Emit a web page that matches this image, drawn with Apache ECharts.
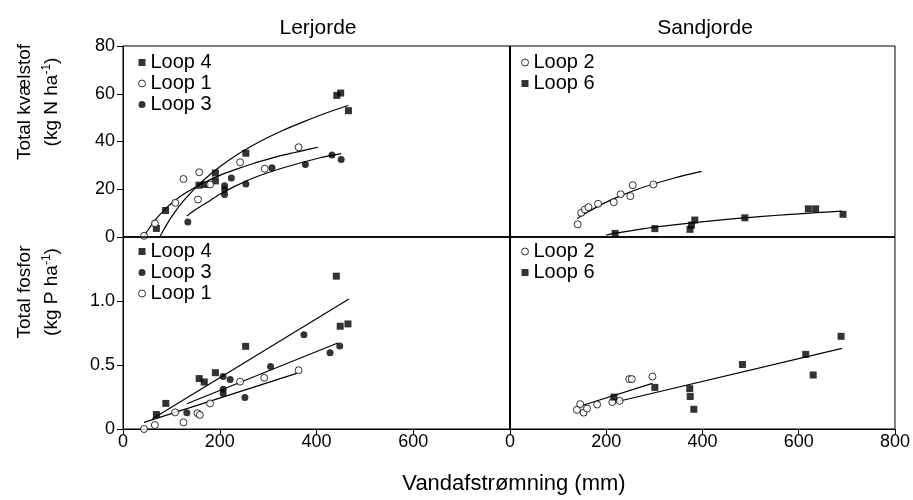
<!DOCTYPE html>
<html>
<head>
<meta charset="utf-8">
<script src="https://cdn.jsdelivr.net/npm/echarts@6/dist/echarts.min.js"></script>
<style>
  html, body { margin: 0; padding: 0; background: #fff; }
  #chart { width: 913px; height: 500px; }
</style>
</head>
<body>
<div id="chart"></div>
<script>
// Axis ticks
const xTicks = [0, 200, 400, 600, 800];
const nTicks = [0, 20, 40, 60, 80];
const pTicks = [0, 0.5, 1.0, 1.5];

// Lerjorde, total nitrogen [runoff mm, kg N/ha]
const lerN_loop4 = [[69,3.6],[88,11.1],[157,21.7],[170,22],[191,26.8],[191,23.5],[254,35.1],[442,59.3],[450,60.3],[466,52.9]];
const lerN_loop1 = [[43.5,0.5],[66,5.7],[108,14.3],[125,24.3],[157.5,27.1],[155,15.7],[180,22],[242,31.3],[293,28.6],[363,37.6]];
const lerN_loop3 = [[134,6.25],[210,21.5],[210,19.9],[210,17.8],[224,24.7],[254,22.2],[308,29],[377,30.4],[432,34.3],[451,32.5]];
// Fitted curves
const lerN_fit4 = [[76,0],[82,2.3],[90,5.1],[100,8.3],[115,12.6],[130,16.3],[155,21.6],[185,27],[215,31.6],[250,36.2],[290,40.7],[330,44.6],[370,48],[406,50.9],[436,53.1],[466,55.1]];
const lerN_fit1 = [[43,0],[50,2.4],[61,5.6],[73,8.6],[88,11.9],[108,15.4],[130,18.5],[162,22.2],[199,25.7],[233,28.3],[268,30.7],[302,32.7],[337,34.6],[370,36.1],[403,37.6]];
const lerN_fit3 = [[132,8.8],[145,10.8],[160,12.8],[178,15],[199,17.8],[232,21.3],[268,24.6],[302,27.1],[337,29.3],[372,31.3],[406,33.1],[451,34.9]];

// Sandjorde, total nitrogen
const sandN_loop2 = [[140.6,5.3],[148,10.1],[155.7,11.5],[163,12.5],[183,13.9],[215.6,14.6],[230,17.9],[250,17.1],[255,21.7],[298,22]];
const sandN_loop6 = [[218.5,1.5],[301,3.5],[374,3.2],[377,5],[384,7.1],[488,8.05],[620,11.8],[635,11.8],[692,9.5]];
const sandN_fit2 = [[140,7.8],[150,9.1],[160,10.3],[176,12.1],[196,14.2],[228,17.1],[265,20],[300,22.3],[334,24.3],[366,26],[398,27.5]];
const sandN_fit6 = [[200,0.8],[225,1.8],[250,2.6],[275,3.4],[300,4.1],[345,5.2],[393,6.2],[445,7.3],[500,8.2],[550,9],[600,9.7],[645,10.3],[689,10.8]];

// Lerjorde, total phosphorus [runoff mm, kg P/ha]
const lerP_loop4 = [[69,0.113],[88.5,0.2],[157.5,0.394],[168,0.367],[191,0.44],[253.5,0.646],[441,1.194],[449,0.803],[465,0.821]];
const lerP_loop3 = [[132,0.126],[207,0.41],[207,0.31],[207,0.278],[221.5,0.386],[252,0.246],[305,0.488],[374,0.737],[428,0.595],[448,0.648]];
const lerP_loop1 = [[43.5,0],[65.8,0.031],[107.8,0.13],[125,0.052],[154,0.123],[158.8,0.11],[180,0.2],[242,0.37],[292,0.4],[363,0.459]];
const lerP_fit4 = [[61,0.08],[467,1.016]];
const lerP_fit3 = [[132,0.197],[444,0.672]];
const lerP_fit1 = [[43.5,0.052],[359,0.435]];

// Sandjorde, total phosphorus
const sandP_loop2 = [[139,0.15],[146,0.194],[153,0.128],[160,0.16],[181,0.191],[212.6,0.21],[227.7,0.22],[247.7,0.39],[253,0.39],[296,0.41]];
const sandP_loop6 = [[216,0.249],[301,0.325],[373.5,0.315],[374.5,0.254],[382,0.154],[483,0.504],[614.5,0.583],[630,0.422],[688,0.724]];
const sandP_fit2 = [[145,0.178],[296,0.357]];
const sandP_fit6 = [[215,0.207],[690,0.63]];

const FONT = '"Liberation Sans", Arial, sans-serif';
const BLACK = '#000';

const sq = { symbol: 'rect', symbolSize: 7, itemStyle: { color: BLACK } };
const dot = { symbol: 'circle', symbolSize: 7, itemStyle: { color: BLACK } };
const ring = { symbol: 'circle', symbolSize: 7, itemStyle: { color: '#fff', borderColor: BLACK, borderWidth: 1 } };

function pts(name, data, idx, style) {
  return Object.assign({ type: 'scatter', name, data, xAxisIndex: idx, yAxisIndex: idx, z: 3, silent: true }, style);
}
function fit(name, data, idx, curved) {
  return {
    type: 'line', name, data, xAxisIndex: idx, yAxisIndex: idx, showSymbol: false, silent: true,
    smooth: curved ? 0.25 : false,
    lineStyle: { color: BLACK, width: 1.2 }, z: 2
  };
}

const grids = [
  { left: 123, top: 46, width: 387, height: 191 },
  { left: 510, top: 46, width: 385, height: 191 },
  { left: 123, top: 237, width: 387, height: 192 },
  { left: 510, top: 237, width: 385, height: 192 }
].map(g => Object.assign({ show: true, borderColor: BLACK, borderWidth: 1, backgroundColor: 'transparent' }, g));

function xAxis(idx, labels, hideLast) {
  return {
    type: 'value', gridIndex: idx, min: xTicks[0], max: xTicks[xTicks.length - 1], interval: 200,
    splitLine: { show: false },
    axisLine: { show: labels, onZero: false, lineStyle: { color: BLACK, width: 1 } },
    axisTick: { show: labels, length: 5, lineStyle: { color: BLACK } },
    axisLabel: {
      show: labels, color: BLACK, fontFamily: FONT, fontSize: 18, margin: 4,
      formatter: v => (hideLast && v === 800) ? '' : String(v)
    }
  };
}
function yAxis(idx, ticks, labels, fmt) {
  return {
    type: 'value', gridIndex: idx, min: ticks[0], max: ticks[ticks.length - 1],
    interval: ticks[1] - ticks[0],
    splitLine: { show: false },
    axisLine: { show: labels, lineStyle: { color: BLACK, width: 1 } },
    axisTick: { show: labels, length: 6, lineStyle: { color: BLACK } },
    axisLabel: { show: labels, color: BLACK, fontFamily: FONT, fontSize: 18, margin: 8, formatter: fmt }
  };
}

function legend(left, top, items) {
  return {
    orient: 'vertical', left, top, padding: 0, itemGap: 0, itemWidth: 7, itemHeight: 7,
    selectedMode: false,
    textStyle: { color: BLACK, fontFamily: FONT, fontSize: 20, lineHeight: 21 },
    data: items
  };
}
const legSq = n => ({ name: n, icon: 'rect', itemStyle: { color: BLACK, borderWidth: 0 } });
const legDot = n => ({ name: n, icon: 'circle', itemStyle: { color: BLACK, borderWidth: 0 } });
const legRing = n => ({ name: n, icon: 'circle', itemStyle: { color: '#fff', borderColor: BLACK, borderWidth: 1 } });

function yTitle(x, y, main, unit) {
  return {
    type: 'text', x, y, rotation: Math.PI / 2, silent: true,
    style: {
      text: main + '\n' + unit,
      fill: BLACK, font: '19px ' + FONT, align: 'center', verticalAlign: 'middle', lineHeight: 27,
      rich: { sup: { fontSize: 12, fontFamily: FONT, verticalAlign: 'top', lineHeight: 27, padding: [3, 0, 0, 0] } }
    }
  };
}
function label(x, y, text, size) {
  return {
    type: 'text', x, y, silent: true,
    style: { text, fill: BLACK, font: size + 'px ' + FONT, align: 'center', verticalAlign: 'middle' }
  };
}
function line(x1, y1, x2, y2, w) {
  return { type: 'line', silent: true, z: 10, shape: { x1, y1, x2, y2 }, style: { stroke: BLACK, lineWidth: w } };
}

const option = {
  animation: false,
  backgroundColor: '#fff',
  grid: grids,
  xAxis: [xAxis(0, false), xAxis(1, false), xAxis(2, true, true), xAxis(3, true, false)],
  yAxis: [
    yAxis(0, nTicks, true, v => String(v)),
    yAxis(1, nTicks, false),
    yAxis(2, pTicks, true, v => v === 0 ? '0' : (v === 1.5 ? '' : v.toFixed(1))),
    yAxis(3, pTicks, false)
  ],
  legend: [
    legend(138, 52, [legSq('Loop 4'), legRing('Loop 1'), legDot('Loop 3')]),
    legend(521, 52, [legRing('Loop 2'), legSq('Loop 6')]),
    legend(138, 241, [legSq('Loop 4'), legDot('Loop 3'), legRing('Loop 1')]),
    legend(521, 241, [legRing('Loop 2'), legSq('Loop 6')])
  ],
  series: [
    fit('Loop 4 kurve N', lerN_fit4, 0, true),
    fit('Loop 1 kurve N', lerN_fit1, 0, true),
    fit('Loop 3 kurve N', lerN_fit3, 0, true),
    fit('Loop 2 kurve N', sandN_fit2, 1, true),
    fit('Loop 6 kurve N', sandN_fit6, 1, true),
    fit('Loop 4 linje P', lerP_fit4, 2, false),
    fit('Loop 3 linje P', lerP_fit3, 2, false),
    fit('Loop 1 linje P', lerP_fit1, 2, false),
    fit('Loop 2 linje P', sandP_fit2, 3, false),
    fit('Loop 6 linje P', sandP_fit6, 3, false),
    pts('Loop 4', lerN_loop4, 0, sq),
    pts('Loop 1', lerN_loop1, 0, ring),
    pts('Loop 3', lerN_loop3, 0, dot),
    pts('Loop 2', sandN_loop2, 1, ring),
    pts('Loop 6', sandN_loop6, 1, sq),
    pts('Loop 4', lerP_loop4, 2, sq),
    pts('Loop 3', lerP_loop3, 2, dot),
    pts('Loop 1', lerP_loop1, 2, ring),
    pts('Loop 2', sandP_loop2, 3, ring),
    pts('Loop 6', sandP_loop6, 3, sq)
  ],
  graphic: [
    label(318, 28, 'Lerjorde', 21),
    label(705, 28, 'Sandjorde', 21),
    label(514, 484, 'Vandafstrømning (mm)', 22),
    yTitle(38, 102, 'Total kvælstof', '(kg N ha{sup|-1})'),
    yTitle(38, 292, 'Total fosfor', '(kg P ha{sup|-1})'),
    line(510, 46, 510, 429, 2),
    line(123, 237, 895, 237, 1.5)
  ]
};

const chart = echarts.init(document.getElementById('chart'), null, { renderer: 'canvas' });
chart.setOption(option);
</script>
</body>
</html>
